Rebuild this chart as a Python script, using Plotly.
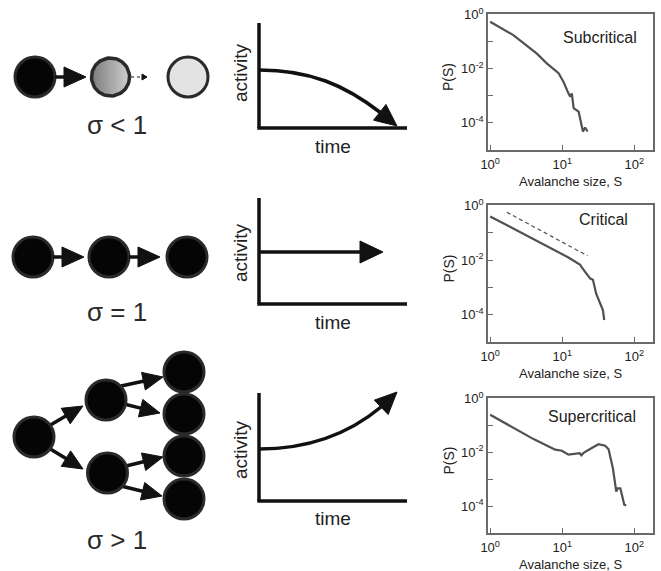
import math
import plotly.graph_objects as go

# ---------------- data ----------------
sub_S = [1.0, 2.1, 4.45, 6.1, 8.9, 10.4, 12.2, 12.9, 13.6, 14.4, 16.9, 18.7, 19.4, 20.8, 22.5]
sub_P = [0.54, 0.174, 0.036, 0.0158, 0.0068, 0.0033, 0.00123, 0.00093, 0.00123,
         0.00035, 0.00026, 8.5e-5, 4.8e-5, 6.8e-5, 4.8e-5]

crit_S = [1.0, 12.2, 17.8, 18.7, 24.5, 26.7, 29.6, 33.7, 34.8, 36.7, 38.3]
crit_P = [0.40, 0.0125, 0.0068, 0.0054, 0.0021, 0.0019, 0.00059, 0.00026, 0.00022, 0.000148, 6.4e-5]
crit_fit_S = [1.70, 22.5]
crit_fit_P = [0.57, 0.0144]

sup_S = [1.0, 4.0, 8.0, 9.9, 12.2, 16.0, 17.5, 18.4, 19.8, 27.2, 32.0, 39.5, 44.0, 50.6,
         56.2, 58.7, 64.0, 67.5, 72.6, 77.4]
sup_P = [0.25, 0.031, 0.0126, 0.0115, 0.0082, 0.0087, 0.0093, 0.0078, 0.0095, 0.0157,
         0.020, 0.0175, 0.013, 0.0025, 0.00035, 0.00046, 0.00046, 0.00026, 0.000112, 0.000105]

panel_titles = ["Subcritical", "Critical", "Supercritical"]
sigma_labels = ["σ < 1", "σ = 1", "σ > 1"]
x_tickvals = [1, 10, 100]
x_ticktext = ["10<sup>0</sup>", "10<sup>1</sup>", "10<sup>2</sup>"]
y_tickvals = [1, 0.01, 0.0001]
y_ticktext = ["10<sup>0</sup>", "10<sup>-2</sup>", "10<sup>-4</sup>"]
y_minorvals = [0.1, 0.001]

W_FIG, H_FIG = 661, 571
FONT = "Liberation Sans, Arial, sans-serif"
GRAY = "#505050"
INK = "#111111"

fig = go.Figure()

# ---------------- right-hand log-log panels ----------------
panel_y = [(14, 150), (205, 342), (398, 533)]
px_left, px_right = 488, 653
series = [(sub_S, sub_P), (crit_S, crit_P), (sup_S, sup_P)]
title_pos = [(600, 37), (603, 220), (592, 416)]

annotations = []
for i, ((top, bot), (S, P)) in enumerate(zip(panel_y, series)):
    k = "" if i == 0 else str(i + 1)
    fig.add_trace(go.Scatter(x=S, y=P, mode="lines", line=dict(color=GRAY, width=2.2),
                             xaxis="x" + k, yaxis="y" + k, showlegend=False, hoverinfo="skip"))
    if i == 1:
        fig.add_trace(go.Scatter(x=crit_fit_S, y=crit_fit_P, mode="lines",
                                 line=dict(color=GRAY, width=1.2, dash="4px,3px"),
                                 xaxis="x2", yaxis="y2", showlegend=False, hoverinfo="skip"))
    ax = dict(type="log", range=[-0.03, 2.26], domain=[px_left / W_FIG, px_right / W_FIG],
              anchor="y" + k, showgrid=False, zeroline=False, showline=True, mirror=True,
              linecolor="#6a6a6a", linewidth=1.5, ticks="inside", ticklen=5, tickwidth=1.2,
              tickcolor="#6a6a6a", tickvals=x_tickvals, ticktext=x_ticktext, automargin=False,
              tickfont=dict(family=FONT, size=13, color="#222"), ticklabelstandoff=2)
    ay = dict(type="log", range=[-5, 0.02], domain=[1 - bot / H_FIG, 1 - top / H_FIG],
              anchor="x" + k, showgrid=False, zeroline=False, showline=True, mirror=True,
              linecolor="#6a6a6a", linewidth=1.5, ticks="inside", ticklen=5, tickwidth=1.2,
              tickcolor="#6a6a6a", tickvals=y_tickvals, ticktext=y_ticktext, automargin=False,
              minor=dict(tickvals=y_minorvals, ticks="inside", ticklen=5, tickwidth=1.2,
                         tickcolor="#6a6a6a", showgrid=False),
              tickfont=dict(family=FONT, size=13, color="#222"))
    fig.update_layout(**{"xaxis" + k: ax, "yaxis" + k: ay})
    annotations.append(dict(text="Avalanche size, S", x=(px_left + px_right) / 2 / W_FIG,
                            y=1 - (bot + 31) / H_FIG, xref="paper", yref="paper", showarrow=False,
                            font=dict(family=FONT, size=13, color="#222"), xanchor="center", yanchor="middle"))
    annotations.append(dict(text="P(S)", x=448 / W_FIG, y=1 - ((top + bot) / 2 - 5) / H_FIG,
                            xref="paper", yref="paper", showarrow=False, textangle=-90,
                            font=dict(family=FONT, size=14, color="#222"), xanchor="center", yanchor="middle"))
    tx, ty = title_pos[i]
    annotations.append(dict(text=panel_titles[i], x=tx / W_FIG, y=1 - ty / H_FIG, xref="paper",
                            yref="paper", showarrow=False, font=dict(family=FONT, size=16, color="#222"),
                            xanchor="center", yanchor="middle"))

# ---------------- overlay axis in pixel units for the diagrams ----------------
fig.update_layout(
    xaxis4=dict(domain=[0, 1], range=[0, W_FIG], visible=False, anchor="y4", fixedrange=True, automargin=False),
    yaxis4=dict(domain=[0, 1], range=[H_FIG, 0], visible=False, anchor="x4", fixedrange=True, automargin=False),
)

shapes = []


def circle(cx, cy, r=20, fill="#050505"):
    shapes.append(dict(type="circle", xref="x4", yref="y4", x0=cx - r, x1=cx + r,
                       y0=cy - r, y1=cy + r, fillcolor=fill,
                       line=dict(color="#2a2a2a", width=3), layer="above"))


def head(x1, y1, ux, uy, L, Wd):
    bx, by = x1 - ux * L, y1 - uy * L
    p = (f"M{x1},{y1} L{bx - uy * Wd},{by + ux * Wd} "
         f"L{bx + uy * Wd},{by - ux * Wd} Z")
    shapes.append(dict(type="path", xref="x4", yref="y4", path=p, fillcolor=INK,
                       line=dict(color=INK, width=1), layer="above"))


def arrow(x0, y0, x1, y1, L=20, Wd=9, width=3.5, dash="solid"):
    dx, dy = x1 - x0, y1 - y0
    n = math.hypot(dx, dy)
    ux, uy = dx / n, dy / n
    bx, by = x1 - ux * L, y1 - uy * L
    shapes.append(dict(type="line", xref="x4", yref="y4", x0=x0, y0=y0,
                       x1=bx + ux * 2, y1=by + uy * 2,
                       line=dict(color=INK, width=width, dash=dash), layer="above"))
    head(x1, y1, ux, uy, L, Wd)


def curve_arrow(path, tip, base, L=22, Wd=10):
    shapes.append(dict(type="path", xref="x4", yref="y4", path=path,
                       fillcolor="rgba(0,0,0,0)", line=dict(color=INK, width=3.5), layer="above"))
    dx, dy = tip[0] - base[0], tip[1] - base[1]
    n = math.hypot(dx, dy)
    head(tip[0], tip[1], dx / n, dy / n, L, Wd)


def line(x0, y0, x1, y1, width=3.5):
    shapes.append(dict(type="line", xref="x4", yref="y4", x0=x0, y0=y0, x1=x1, y1=y1,
                       line=dict(color=INK, width=width), layer="above"))


# row 1 : sigma < 1
circle(35, 77)
arrow(55, 77, 86, 77, L=22, Wd=10)
theta = [2 * math.pi * t / 72 for t in range(73)]
fig.add_trace(go.Scatter(x=[110.5 + 19 * math.cos(t) for t in theta],
                         y=[77 + 19 * math.sin(t) for t in theta],
                         xaxis="x4", yaxis="y4", mode="lines", fill="toself",
                         fillgradient=dict(type="horizontal",
                                           colorscale=[[0, "#7c7c7c"], [1, "#cfcfcf"]]),
                         line=dict(color="#2a2a2a", width=3.5), showlegend=False, hoverinfo="skip"))
arrow(131, 77, 147, 77, L=5, Wd=3, width=1, dash="dot")
circle(188, 77, fill="#e3e3e3")

# row 2 : sigma = 1
circle(33, 257)
arrow(53, 257, 84, 257, L=22, Wd=10)
circle(109, 257)
arrow(129, 257, 160, 257, L=22, Wd=10)
circle(187, 257)

# row 3 : sigma > 1
arrow(47, 427, 83, 406)
arrow(47, 447, 83, 469)
arrow(121, 386, 163, 377)
arrow(120, 403, 160, 413)
arrow(122, 467, 163, 457)
arrow(121, 486, 162, 496)
circle(34, 437)
circle(106, 400)
circle(107.5, 473)
for cy in [372, 414, 456, 499]:
    circle(184, cy)

# activity sketches
for (ytop, ybot) in [(23, 128), (198, 304), (393, 501)]:
    line(259, ytop, 259, ybot)
    line(257.3, ybot, 407, ybot)

curve_arrow("M259,70 C310,70 345,85 381,113", tip=(397, 126), base=(380, 112.5))
arrow(260, 252, 383, 252, L=23, Wd=11)
curve_arrow("M259,449 C305,449 345,437 381,407", tip=(397, 392), base=(381, 407.5))

for y in [73, 253, 450]:
    annotations.append(dict(text="activity", x=240, y=y, xref="x4", yref="y4", showarrow=False,
                            textangle=-90, font=dict(family=FONT, size=19, color="#222"),
                            xanchor="center", yanchor="middle"))
for y in [146, 322, 518]:
    annotations.append(dict(text="time", x=333, y=y, xref="x4", yref="y4", showarrow=False,
                            font=dict(family=FONT, size=19, color="#222"),
                            xanchor="center", yanchor="middle"))
for lab, y in zip(sigma_labels, [125, 312, 540]):
    annotations.append(dict(text=lab, x=117, y=y, xref="x4", yref="y4", showarrow=False,
                            font=dict(family=FONT, size=26, color="#2a2a2a"),
                            xanchor="center", yanchor="middle"))

fig.update_layout(
    width=W_FIG, height=H_FIG, margin=dict(l=0, r=0, t=0, b=0, autoexpand=False),
    paper_bgcolor="white", plot_bgcolor="rgba(0,0,0,0)",
    shapes=shapes, annotations=annotations, showlegend=False,
)

fig.write_html("out.html", config={"displayModeBar": False},
               post_script="document.body.style.margin='0';document.body.style.overflow='hidden';")
